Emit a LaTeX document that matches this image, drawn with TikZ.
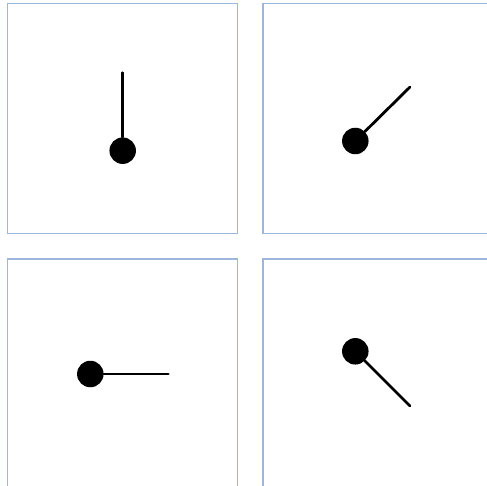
\documentclass[tikz,border=0pt]{standalone}
\usepackage{xcolor}
\usepackage{tikz}
\usetikzlibrary{positioning}
\definecolor{framebl}{HTML}{9DB6DC}

\begin{document}
\begin{tikzpicture}[x=1pt,y=-1pt,
  panel/.style={draw=framebl,line width=1.6pt,minimum size=230pt,inner sep=0pt},
  bob/.style={circle,fill=black,minimum size=26.5pt,inner sep=0pt},
  rod/.style={line width=2.8pt,line cap=round}]
  \useasboundingbox (0,0) rectangle (487,486);
  % frames
  \node[panel] (p1) at (122.5,118.4) {};
  \node[panel] (p2) at (378,118.4) {};
  \node[panel] (p3) at (122.5,374) {};
  \node[panel] (p4) at (378,374) {};
  % bobs and rod tips
  \node[bob] (b1) at (122.7,150.7) {};  \coordinate (t1) at (122.7,72.7);
  \node[bob] (b2) at (355.3,141) {};    \coordinate (t2) at (410,87);
  \node[bob] (b3) at (90.3,374) {};     \coordinate (t3) at (168.3,374);
  \node[bob] (b4) at (355.3,351.3) {};  \coordinate (t4) at (410,406);
  \draw[rod] (b1)--(t1); \draw[rod] (b2)--(t2);
  \draw[rod] (b3)--(t3); \draw[rod] (b4)--(t4);
\end{tikzpicture}
\end{document}
